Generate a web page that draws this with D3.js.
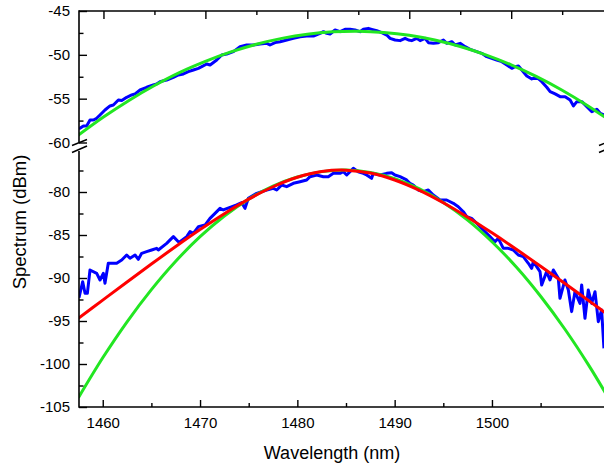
<!DOCTYPE html>
<html>
<head>
<meta charset="utf-8">
<script src="https://cdn.jsdelivr.net/npm/d3@7"></script>
<style>
  html, body { margin: 0; padding: 0; background: #fff; }
  svg text { font-family: "Liberation Sans", Arial, sans-serif; fill: #000; }
</style>
</head>
<body>
<div id="chart"></div>
<script>
// measured spectrum, upper panel [wavelength nm, dBm]
const topMeasured = [
  [1457.6, -58.34], [1457.7, -58.38], [1458.03, -58.11], [1458.35, -58.11], [1458.68, -57.43],
  [1459.01, -57.43], [1459.33, -57.24], [1459.66, -56.86], [1460.15, -56.29], [1460.64, -55.83],
  [1460.97, -55.72], [1461.46, -55.15], [1461.79, -55.22], [1462.28, -54.84], [1462.77, -54.58],
  [1463.1, -54.46], [1463.59, -54.01], [1464.24, -53.7], [1464.89, -53.44], [1465.22, -53.32],
  [1465.55, -53.06], [1466.2, -52.87], [1466.86, -52.56], [1467.35, -52.3], [1467.84, -52.18],
  [1468.33, -51.92], [1468.82, -51.73], [1469.31, -51.54], [1469.64, -51.35], [1470.13, -51.04],
  [1470.46, -51.16], [1471.11, -50.59], [1471.6, -50.02], [1472.09, -49.9], [1472.75, -49.64],
  [1473.4, -49.07], [1474.05, -48.88], [1474.71, -48.88], [1475.36, -48.76], [1476.02, -48.69],
  [1476.34, -48.88], [1476.83, -48.61], [1477.33, -48.5], [1477.98, -48.31], [1478.63, -48.12],
  [1479.29, -47.93], [1479.94, -47.85], [1480.6, -47.85], [1481.25, -47.55], [1481.58, -47.36],
  [1481.9, -47.55], [1482.23, -47.62], [1482.72, -47.17], [1483.21, -47.36], [1483.7, -47.09],
  [1484.19, -47.09], [1484.68, -47.17], [1485.17, -47.36], [1485.5, -47.09], [1485.99, -46.98],
  [1486.32, -47.09], [1486.81, -47.24], [1487.3, -47.47], [1487.79, -47.74], [1488.12, -48.12],
  [1488.61, -48.31], [1489.1, -48.38], [1489.59, -48.12], [1489.92, -48.31], [1490.24, -48.38],
  [1490.73, -48.12], [1491.06, -48.38], [1491.55, -48.12], [1491.88, -48.61], [1492.37, -48.69],
  [1492.86, -48.61], [1493.35, -48.31], [1493.68, -48.69], [1494.17, -48.5], [1494.5, -48.88],
  [1494.99, -48.69], [1495.48, -49.07], [1495.97, -49.37], [1496.62, -49.64], [1497.11, -49.83],
  [1497.6, -50.21], [1498.09, -50.4], [1498.58, -50.59], [1499.08, -50.78], [1499.57, -51.16],
  [1500.06, -51.54], [1500.38, -51.35], [1500.71, -51.27], [1501.04, -51.73], [1501.53, -52.41],
  [1502.02, -52.75], [1502.51, -52.56], [1503.0, -53.06], [1503.49, -53.7], [1503.82, -54.2],
  [1504.31, -54.46], [1504.8, -54.77], [1505.29, -54.77], [1505.78, -55.15], [1506.11, -55.83],
  [1506.44, -55.34], [1506.93, -55.34], [1507.42, -55.91], [1507.91, -56.48], [1508.4, -56.21],
  [1508.73, -56.67], [1509.12, -56.86]
];

// fit, upper panel
const topFit = [
  [1457.5, -59.2], [1460, -57.1], [1462.5, -55.2], [1465, -53.5], [1467.5, -52.0],
  [1470, -50.75], [1472.5, -49.67], [1475, -48.79], [1477.5, -48.12], [1480, -47.64],
  [1482.5, -47.37], [1485, -47.3], [1487.5, -47.44], [1490, -47.77], [1492.5, -48.31],
  [1495, -49.05], [1497.5, -50.0], [1500, -51.14], [1502.5, -52.49], [1505, -54.04],
  [1507.5, -55.8], [1510, -57.75]
];

// measured spectrum, lower panel
const botMeasured = [
  [1457.56, -92.3], [1457.66, -91.78], [1457.94, -90.43], [1458.18, -91.78], [1458.42, -91.78],
  [1458.69, -89.07], [1459.38, -89.46], [1459.72, -90.23], [1460.06, -89.46], [1460.23, -90.62],
  [1460.57, -88.29], [1461.43, -88.29], [1461.95, -87.91], [1462.46, -87.33], [1462.8, -87.71],
  [1463.32, -87.33], [1463.66, -87.83], [1464.0, -87.13], [1464.51, -86.94], [1465.03, -86.74],
  [1465.54, -86.55], [1465.71, -86.74], [1466.57, -85.97], [1467.08, -85.39], [1467.26, -85.19],
  [1467.77, -85.78], [1467.94, -85.78], [1468.63, -85.19], [1468.97, -84.61], [1469.31, -84.81],
  [1469.83, -84.03], [1470.51, -83.84], [1471.02, -83.06], [1471.54, -82.48], [1472.05, -81.9],
  [1472.39, -82.09], [1473.08, -81.78], [1473.76, -81.51], [1474.28, -81.24], [1474.62, -81.9],
  [1474.96, -80.74], [1475.82, -80.16], [1476.85, -79.77], [1477.53, -79.57], [1477.88, -79.77],
  [1478.39, -79.19], [1478.9, -79.38], [1479.59, -78.99], [1480.27, -78.8], [1480.96, -78.6],
  [1481.3, -78.22], [1481.99, -78.02], [1482.67, -78.22], [1483.18, -78.22], [1483.7, -77.83],
  [1484.38, -77.83], [1484.72, -77.64], [1485.07, -78.02], [1485.75, -77.25], [1486.26, -77.64],
  [1486.78, -77.83], [1487.12, -78.02], [1487.63, -78.41], [1487.81, -77.83], [1488.49, -78.02],
  [1489.18, -77.83], [1489.69, -77.75], [1490.03, -78.02], [1490.55, -78.22], [1491.23, -78.6],
  [1491.57, -78.99], [1491.92, -79.19], [1492.43, -79.77], [1492.94, -79.96], [1493.46, -79.77],
  [1493.97, -80.35], [1494.66, -80.93], [1495.34, -80.93], [1496.03, -81.32], [1496.54, -81.71],
  [1497.06, -82.29], [1497.4, -82.87], [1497.91, -83.06], [1498.43, -83.64], [1499.11, -84.42],
  [1499.8, -85.19], [1500.31, -85.78], [1500.65, -85.39], [1501.17, -86.55], [1501.68, -86.55],
  [1502.19, -86.74], [1502.71, -87.33], [1503.22, -87.52], [1503.74, -88.29], [1504.08, -88.88],
  [1504.25, -88.1], [1504.94, -89.26], [1505.11, -90.81], [1505.62, -89.26], [1505.96, -90.23],
  [1506.31, -89.07], [1506.82, -90.04], [1506.99, -92.36], [1507.5, -90.23], [1507.85, -91.4],
  [1508.19, -93.91], [1508.53, -91.59], [1509.05, -92.95], [1509.22, -90.81], [1509.56, -94.69],
  [1509.9, -91.4], [1510.25, -92.95], [1510.59, -91.59], [1510.93, -95.08], [1511.27, -93.72],
  [1511.51, -98.18]
];

// green fit, lower panel
const botFitGreen = [
  [1457.5, -103.92], [1460, -99.28], [1462.5, -95.09], [1465, -91.35], [1467.5, -88.05],
  [1470, -85.2], [1472.5, -82.79], [1475, -80.83], [1477.5, -79.32], [1480, -78.25],
  [1482.5, -77.63], [1485, -77.45], [1487.5, -77.72], [1490, -78.44], [1492.5, -79.61],
  [1495, -81.22], [1497.5, -83.27], [1500, -85.78], [1502.5, -88.72], [1505, -92.12],
  [1507.5, -95.96], [1510, -100.25], [1512.5, -104.98]
];

// red fit, lower panel
const botFitRed = [
  [1457.5, -94.69], [1460, -92.57], [1462.5, -90.46], [1465, -88.38], [1467.5, -86.34],
  [1470, -84.37], [1472.5, -82.52], [1475, -80.83], [1477.5, -79.39], [1480, -78.29],
  [1482.5, -77.62], [1485, -77.46], [1487.5, -77.8], [1490, -78.6], [1492.5, -79.78],
  [1495, -81.25], [1497.5, -82.93], [1500, -84.75], [1502.5, -86.66], [1505, -88.64],
  [1507.5, -90.65], [1510, -92.69], [1512.5, -94.74]
];

const xMajor = [1460, 1470, 1480, 1490, 1500];
const xMinor = [1465, 1475, 1485, 1495, 1505];
const yTopMajor = [-60, -55, -50, -45];
const yTopMinor = [-57.5, -52.5, -47.5];
const yBotMajor = [-105, -100, -95, -90, -85, -80];
const yBotMinor = [-102.5, -97.5, -92.5, -87.5, -82.5, -77.5];

const W = 604, H = 465;
const L = 79, R = 606;

const xTop = d3.scaleLinear().domain([1457.6, 1509.3]).range([L, R]);
const xBot = d3.scaleLinear().domain([1457.56, 1511.72]).range([L, R]);
const yTop = d3.scaleLinear().domain([-60, -45]).range([142.5, 11]);
const yBot = d3.scaleLinear().domain([-105, -75]).range([407, 149]);

const svg = d3.select("#chart").append("svg")
  .attr("width", W)
  .attr("height", H);

const defs = svg.append("defs");
defs.append("clipPath").attr("id", "clipTop")
  .append("rect").attr("x", L).attr("y", 8).attr("width", R - L).attr("height", 138);
defs.append("clipPath").attr("id", "clipBot")
  .append("rect").attr("x", L).attr("y", 149).attr("width", R - L).attr("height", 258);

const LW = 3;

function lineFor(x, y, curve) {
  return d3.line().x(d => x(d[0])).y(d => y(d[1])).curve(curve);
}

// upper panel
const gTop = svg.append("g").attr("clip-path", "url(#clipTop)");
gTop.append("path").datum(topMeasured)
  .attr("d", lineFor(xTop, yTop, d3.curveLinear))
  .attr("fill", "none").attr("stroke", "#0000ff").attr("stroke-width", LW)
  .attr("stroke-linejoin", "round");
gTop.append("path").datum(topFit)
  .attr("d", lineFor(xTop, yTop, d3.curveCatmullRom))
  .attr("fill", "none").attr("stroke", "#22e622").attr("stroke-width", LW);

// lower panel
const gBot = svg.append("g").attr("clip-path", "url(#clipBot)");
gBot.append("path").datum(botMeasured)
  .attr("d", lineFor(xBot, yBot, d3.curveLinear))
  .attr("fill", "none").attr("stroke", "#0000ff").attr("stroke-width", LW)
  .attr("stroke-linejoin", "round");
gBot.append("path").datum(botFitGreen)
  .attr("d", lineFor(xBot, yBot, d3.curveCatmullRom))
  .attr("fill", "none").attr("stroke", "#22e622").attr("stroke-width", LW);
gBot.append("path").datum(botFitRed)
  .attr("d", lineFor(xBot, yBot, d3.curveCatmullRom))
  .attr("fill", "none").attr("stroke", "#ff0000").attr("stroke-width", LW);

// axes
const fmt = d => String(d);
const AX = 1.6;

function styleAxis(g, size) {
  g.select(".domain").remove();
  g.selectAll(".tick line").attr("stroke", "#000").attr("stroke-width", 1.4);
  g.selectAll(".tick text").style("font-size", size + "px").attr("fill", "#000");
}

// left axis – upper
svg.append("g").attr("transform", `translate(${L},0)`)
  .call(d3.axisLeft(yTop).tickValues(yTopMajor).tickSize(-8).tickPadding(9).tickFormat(fmt))
  .call(g => styleAxis(g, 15));
svg.append("g").attr("transform", `translate(${L},0)`)
  .call(d3.axisLeft(yTop).tickValues(yTopMinor).tickSize(-4.5).tickFormat(""))
  .call(g => styleAxis(g, 15));

// left axis – lower
svg.append("g").attr("transform", `translate(${L},0)`)
  .call(d3.axisLeft(yBot).tickValues(yBotMajor).tickSize(-8).tickPadding(9).tickFormat(fmt))
  .call(g => styleAxis(g, 15));
svg.append("g").attr("transform", `translate(${L},0)`)
  .call(d3.axisLeft(yBot).tickValues(yBotMinor).tickSize(-4.5).tickFormat(""))
  .call(g => styleAxis(g, 15));

// bottom axis
svg.append("g").attr("transform", `translate(0,${yBot(-105)})`)
  .call(d3.axisBottom(xBot).tickValues(xMajor).tickSize(-7).tickPadding(10.5).tickFormat(fmt))
  .call(g => styleAxis(g, 15));
svg.append("g").attr("transform", `translate(0,${yBot(-105)})`)
  .call(d3.axisBottom(xBot).tickValues(xMinor).tickSize(-4).tickFormat(""))
  .call(g => styleAxis(g, 15));

// top axis (upper layer has its own x scale)
svg.append("g").attr("transform", `translate(0,${yTop(-45)})`)
  .call(d3.axisTop(xTop).tickValues(xMajor).tickSize(-8).tickFormat(""))
  .call(g => styleAxis(g, 15));
svg.append("g").attr("transform", `translate(0,${yTop(-45)})`)
  .call(d3.axisTop(xTop).tickValues(xMinor).tickSize(-4).tickFormat(""))
  .call(g => styleAxis(g, 15));

// frame lines
const frame = svg.append("g").attr("stroke", "#000").attr("stroke-width", AX).attr("fill", "none");
frame.append("line").attr("x1", L).attr("x2", R).attr("y1", yTop(-45)).attr("y2", yTop(-45));
frame.append("line").attr("x1", L).attr("x2", R).attr("y1", yBot(-105)).attr("y2", yBot(-105));
frame.append("line").attr("x1", L).attr("x2", L).attr("y1", yTop(-45) - 0.8).attr("y2", yTop(-60));
frame.append("line").attr("x1", L).attr("x2", L).attr("y1", yBot(-75) + 2).attr("y2", yBot(-105) + 0.8);
frame.append("line").attr("x1", R).attr("x2", R).attr("y1", yTop(-45)).attr("y2", yTop(-60));
frame.append("line").attr("x1", R).attr("x2", R).attr("y1", yBot(-75) + 2).attr("y2", yBot(-105));

// break marks
[L, R].forEach(x0 => {
  const b = svg.append("g").attr("stroke", "#000").attr("stroke-width", 1.5);
  b.append("line").attr("x1", x0 - 7).attr("y1", 145.5).attr("x2", x0 + 8).attr("y2", 139.5);
  b.append("line").attr("x1", x0 - 7).attr("y1", 152.5).attr("x2", x0 + 8).attr("y2", 146);
});

// titles
svg.append("text")
  .attr("x", 332).attr("y", 459)
  .attr("text-anchor", "middle")
  .style("font-size", "18px")
  .text("Wavelength (nm)");

svg.append("text")
  .attr("transform", "translate(26,222) rotate(-90)")
  .attr("text-anchor", "middle")
  .style("font-size", "18.5px")
  .text("Spectrum (dBm)");
</script>
</body>
</html>
